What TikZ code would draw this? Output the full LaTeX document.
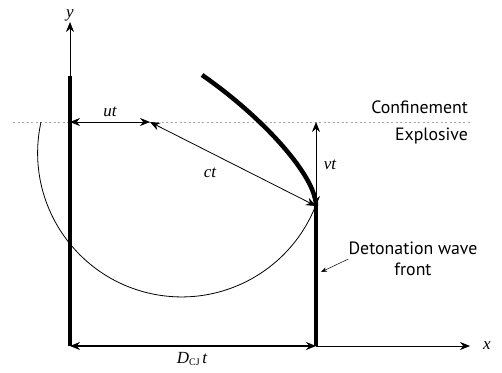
\documentclass[tikz,border=0pt]{standalone}
\usepackage{fontspec}
\setmainfont{Liberation Serif}
\newfontfamily\sansfont{PT Sans}
\usetikzlibrary{arrows.meta, positioning}

\begin{document}
\begin{tikzpicture}[x=1pt, y=-1pt,
    wall/.style={line width=4.5pt},
    dimarr/.style={{Stealth[length=10pt,width=8pt]}-{Stealth[length=10pt,width=8pt]}, line width=0.9pt},
    axis/.style={-{Stealth[length=10pt,width=8pt]}, line width=0.8pt},
    ptr/.style={-{Stealth[length=6pt,width=4.5pt]}, line width=0.5pt},
    sym/.style={font=\fontsize{17}{20}\selectfont\itshape, inner sep=1pt},
    txt/.style={font=\sansfont\fontsize{17.8}{21}\selectfont, align=center, inner sep=0pt}
  ]
    \useasboundingbox (0,0) rectangle (502,372);
    % key points
    \coordinate (O) at (70,346);
    \coordinate (wallTop) at (70,76);
    \coordinate (yEnd) at (70,22);
    \coordinate (xEnd) at (470,346);
    \coordinate (foot) at (316,346);
    \coordinate (tip) at (316,206);
    \coordinate (lim) at (70,122);
    \coordinate (sonic) at (150,122);
    \coordinate (vTop) at (316,122);
    \coordinate (shockEnd) at (202,75);
    \coordinate (frontPt) at (321,272);

    % interface
    \draw[gray!70, line width=0.9pt, dash pattern=on 2pt off 2.5pt] (13,122) -- (470,122);

    % axes
    \draw[axis] (wallTop) -- (yEnd);
    \draw[axis] (foot) -- (xEnd);
    \node[sym, above] (ylab) at (yEnd) {y};
    \node[sym, right=12pt of xEnd] (xlab) {x};

    % expansion circle
    \draw[line width=0.8pt] (41,122) arc[start angle=192.4, end angle=21.6, radius=144];

    % walls and shock
    \draw[wall] (wallTop) -- (O);
    \draw[wall] (tip) -- (foot);
    \draw[wall] (tip) .. controls (316,175) and (260,115) .. (shockEnd);

    % dimensions
    \draw[dimarr] (lim) -- (sonic);
    \draw[dimarr] (vTop) -- (tip);
    \draw[dimarr, line width=0.8pt] (sonic) -- (tip);
    \draw[dimarr, line width=1.6pt] (O) -- (foot);

    \node[sym] (ut) at (110,112) {ut};
    \node[sym] (vt) at (330,165) {vt};
    \node[sym] (ct) at (210,173) {ct};
    \node[sym] (dcj) at (192,359) {D\textup{\fontsize{10}{12}\selectfont\raisebox{-2pt}{CJ}}\,t};

    % texts
    \node[txt, anchor=east] (conf) at (468,107) {Confinement};
    \node[txt, anchor=east] (expl) at (468,136) {Explosive};
    \node[txt] (det) at (413,259) {Detonation wave\\front};
    \draw[ptr] (det.west) -- (frontPt);
\end{tikzpicture}
\end{document}
